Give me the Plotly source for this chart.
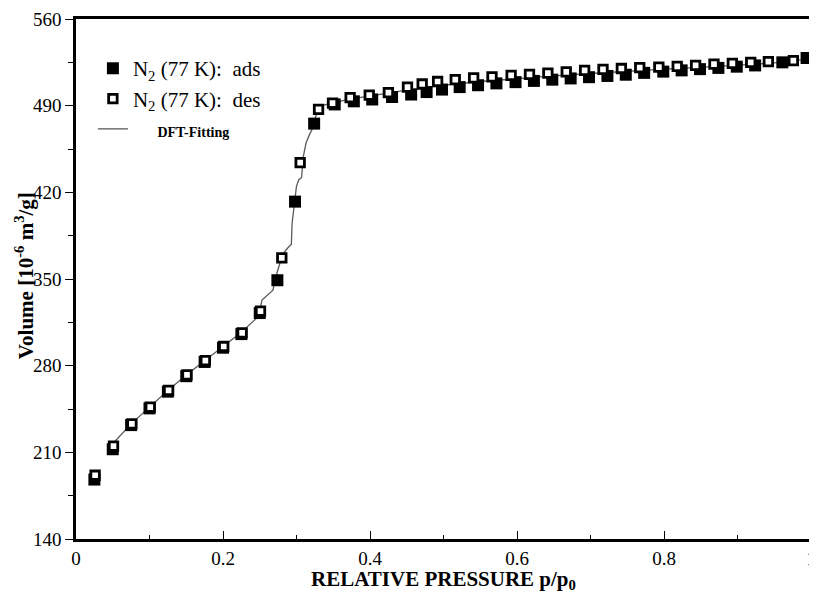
import plotly.graph_objects as go

# ---------------- data ----------------
ads_p = [0.025, 0.05, 0.075, 0.1, 0.125, 0.15, 0.175, 0.2, 0.225, 0.25, 0.274, 0.298, 0.324,
         0.352, 0.378, 0.403, 0.43, 0.456, 0.477, 0.498, 0.522, 0.547, 0.572, 0.598, 0.623,
         0.648, 0.673, 0.698, 0.723, 0.748, 0.773, 0.799, 0.824, 0.849, 0.874, 0.899, 0.924,
         0.961, 0.994]
ads_v = [188, 212.5, 232, 245.5, 259, 271.5, 283, 294.5, 305.5, 322.5, 349, 412.5, 475.5,
         491, 493.5, 495, 497, 499, 501, 503, 505, 506.5, 508, 509, 510,
         511, 512, 513, 514, 515, 516.5, 517.5, 518.5, 519.5, 520.5, 521.5, 522.5,
         525, 528.5]

des_p = [0.026, 0.051, 0.076, 0.101, 0.126, 0.151, 0.176, 0.201, 0.226, 0.251, 0.28, 0.305, 0.33,
         0.349, 0.373, 0.399, 0.425, 0.451, 0.471, 0.492, 0.516, 0.541, 0.566, 0.592, 0.617,
         0.642, 0.667, 0.692, 0.717, 0.742, 0.767, 0.793, 0.818, 0.843, 0.868, 0.893, 0.918,
         0.942, 0.976]
des_v = [191.5, 215, 233, 246.5, 260, 272.5, 284, 295.5, 306.5, 324, 367, 444, 487,
         492, 496.5, 498.5, 500.5, 505, 507.5, 509.5, 511, 512.5, 513.3, 514.5, 515.2,
         516.3, 517.3, 518.5, 519.3, 520, 520.8, 521.2, 521.8, 522.5, 523.5, 524.2, 525,
         525.6, 526.4]

fit_p = [0.053, 0.075, 0.1, 0.125, 0.15, 0.175, 0.2, 0.225, 0.245, 0.25, 0.253, 0.264, 0.268,
         0.271, 0.277, 0.281, 0.288, 0.293, 0.294, 0.297, 0.3, 0.303, 0.307, 0.309, 0.313,
         0.318, 0.322, 0.326, 0.33, 0.335, 0.35, 0.375, 0.4, 0.425, 0.45, 0.475, 0.5, 0.55,
         0.6, 0.65, 0.7, 0.75, 0.8, 0.85, 0.9, 0.95, 1.0]
fit_v = [219, 233, 246.5, 260, 272.5, 284, 295.5, 307, 318, 324, 333, 339, 341,
         350, 362, 370, 375, 378, 395, 412, 425, 430, 432, 448, 460,
         467, 472, 481, 487.5, 490, 492.5, 495.5, 498, 500, 502.5, 504.5, 506.5, 509.5,
         512, 514, 516, 518, 519.5, 521, 522.5, 524.5, 528]

x_ticks = [0, 0.2, 0.4, 0.6, 0.8, 1]
x_tick_labels = ["0", "0.2", "0.4", "0.6", "0.8", "1"]
y_ticks = [140, 210, 280, 350, 420, 490, 560]
y_tick_labels = ["140", "210", "280", "350", "420", "490", "560"]

FONT = "Liberation Serif, Times New Roman, serif"

fig = go.Figure()

# fit line drawn first (underneath the markers)
fig.add_trace(go.Scatter(
    x=fit_p, y=fit_v, mode="lines",
    name="<span style='font-size:14px'>\u00a0\u00a0\u00a0\u00a0\u00a0\u00a0\u00a0<b>DFT-Fitting</b></span>",
    line=dict(color="#5a5a5a", width=1.3),
    legendrank=3,
))
fig.add_trace(go.Scatter(
    x=ads_p, y=ads_v, mode="markers", name="N<sub>2</sub> (77 K):  ads",
    marker=dict(symbol="square", size=12, color="black", line=dict(width=0)),
    legendrank=1,
))
fig.add_trace(go.Scatter(
    x=des_p, y=des_v, mode="markers", name="N<sub>2</sub> (77 K):  des",
    marker=dict(symbol="square", size=8.5, color="white", line=dict(width=2.8, color="black")),
    legendrank=2,
))

axis_common = dict(
    showgrid=False, zeroline=False, showline=True, linecolor="black", linewidth=2.5,
    mirror=True, tickfont=dict(family=FONT, size=19, color="black"),
    tickcolor="black", ticklen=8, tickwidth=1.2, ticklabeloverflow="allow",
)

fig.update_xaxes(
    range=[0, 1], tickvals=x_ticks, ticktext=x_tick_labels, ticks="inside",
    minor=dict(dtick=0.1, ticks="inside", ticklen=4, tickcolor="black", tickwidth=1),
    **axis_common,
)
fig.update_yaxes(
    range=[140, 560], tickvals=y_ticks, ticktext=y_tick_labels, ticks="outside",
    minor=dict(dtick=35, ticks="outside", ticklen=5, tickcolor="black", tickwidth=1),
    **axis_common,
)

fig.update_layout(
    width=809, height=598,
    margin=dict(l=68, r=1, t=9, b=67),
    paper_bgcolor="white", plot_bgcolor="white",
    font=dict(family=FONT, color="black"),
    showlegend=True,
    legend=dict(
        x=0.023, y=0.944, xanchor="left", yanchor="top",
        font=dict(family=FONT, size=21, color="black"),
        bgcolor="rgba(0,0,0,0)", traceorder="normal",
        itemwidth=30,
    ),
    annotations=[
        dict(text="<b>RELATIVE PRESSURE p/p<sub>0</sub></b>", xref="paper", yref="paper",
             x=0.5, y=-0.078, xanchor="center", yanchor="middle", showarrow=False,
             font=dict(family=FONT, size=21, color="black")),
        dict(text="<b>Volume [10<sup>-6</sup> m<sup>3</sup>/g]</b>", xref="paper", yref="paper",
             x=-0.069, y=0.506, xanchor="center", yanchor="middle", showarrow=False,
             textangle=-90, font=dict(family=FONT, size=21, color="black")),
    ],
)

fig.write_html("out.html")
